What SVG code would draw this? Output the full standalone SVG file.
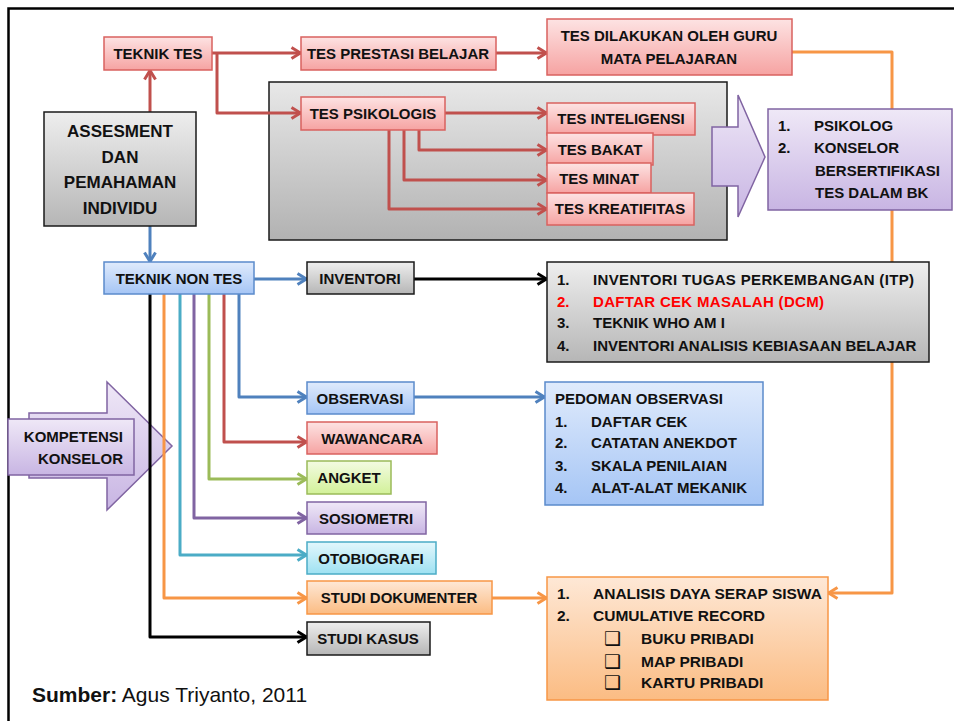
<svg xmlns="http://www.w3.org/2000/svg" width="954" height="721" viewBox="0 0 954 721">
<defs>
<linearGradient id="gRed" x1="0" y1="0" x2="0" y2="1"><stop offset="0" stop-color="#fde3e3"/><stop offset="1" stop-color="#f6a3a2"/></linearGradient>
<linearGradient id="gGray" x1="0" y1="0" x2="0" y2="1"><stop offset="0" stop-color="#eeeeee"/><stop offset="1" stop-color="#b6b6b6"/></linearGradient>
<linearGradient id="gPanel" x1="0" y1="0" x2="0" y2="1"><stop offset="0" stop-color="#e8e8e8"/><stop offset="1" stop-color="#b2b2b2"/></linearGradient>
<linearGradient id="gBlue" x1="0" y1="0" x2="0" y2="1"><stop offset="0" stop-color="#e0ebfc"/><stop offset="1" stop-color="#a5c5f5"/></linearGradient>
<linearGradient id="gGreen" x1="0" y1="0" x2="0" y2="1"><stop offset="0" stop-color="#f3fbe2"/><stop offset="1" stop-color="#d2f199"/></linearGradient>
<linearGradient id="gPurple" x1="0" y1="0" x2="0" y2="1"><stop offset="0" stop-color="#efe8f7"/><stop offset="1" stop-color="#c8b5e3"/></linearGradient>
<linearGradient id="gCyan" x1="0" y1="0" x2="0" y2="1"><stop offset="0" stop-color="#e3f7fc"/><stop offset="1" stop-color="#9ee1f2"/></linearGradient>
<linearGradient id="gOrange" x1="0" y1="0" x2="0" y2="1"><stop offset="0" stop-color="#fee8d6"/><stop offset="1" stop-color="#fbbc83"/></linearGradient>
<marker id="mRed" viewBox="0 0 12 14" refX="11" refY="7" markerWidth="12" markerHeight="14" markerUnits="userSpaceOnUse" orient="auto"><path d="M1.5,1.5 L10.5,7 L1.5,12.5" fill="none" stroke="#c0504d" stroke-width="3"/></marker>
<marker id="mBlue" viewBox="0 0 12 14" refX="11" refY="7" markerWidth="12" markerHeight="14" markerUnits="userSpaceOnUse" orient="auto"><path d="M1.5,1.5 L10.5,7 L1.5,12.5" fill="none" stroke="#4f81bd" stroke-width="3"/></marker>
<marker id="mGreen" viewBox="0 0 12 14" refX="11" refY="7" markerWidth="12" markerHeight="14" markerUnits="userSpaceOnUse" orient="auto"><path d="M1.5,1.5 L10.5,7 L1.5,12.5" fill="none" stroke="#9bbb59" stroke-width="3"/></marker>
<marker id="mPurple" viewBox="0 0 12 14" refX="11" refY="7" markerWidth="12" markerHeight="14" markerUnits="userSpaceOnUse" orient="auto"><path d="M1.5,1.5 L10.5,7 L1.5,12.5" fill="none" stroke="#8064a2" stroke-width="3"/></marker>
<marker id="mCyan" viewBox="0 0 12 14" refX="11" refY="7" markerWidth="12" markerHeight="14" markerUnits="userSpaceOnUse" orient="auto"><path d="M1.5,1.5 L10.5,7 L1.5,12.5" fill="none" stroke="#4bacc6" stroke-width="3"/></marker>
<marker id="mOrange" viewBox="0 0 12 14" refX="11" refY="7" markerWidth="12" markerHeight="14" markerUnits="userSpaceOnUse" orient="auto"><path d="M1.5,1.5 L10.5,7 L1.5,12.5" fill="none" stroke="#f79646" stroke-width="3"/></marker>
<marker id="mBlack" viewBox="0 0 12 14" refX="11" refY="7" markerWidth="12" markerHeight="14" markerUnits="userSpaceOnUse" orient="auto"><path d="M1.5,1.5 L10.5,7 L1.5,12.5" fill="none" stroke="#000000" stroke-width="3"/></marker>
</defs>
<style>
text{font-family:"Liberation Sans",Arial,sans-serif;font-weight:bold;font-size:15px;fill:#111;}
.c{text-anchor:middle;}
.big{font-size:17px;}
.li{font-size:15.5px;}
.red{fill:url(#gRed);stroke:#d9625f;stroke-width:1.5;}
.gray{fill:url(#gGray);stroke:#1a1a1a;stroke-width:1.5;}
.blue{fill:url(#gBlue);stroke:#5b8bcb;stroke-width:1.5;}
.green{fill:url(#gGreen);stroke:#9bbb59;stroke-width:1.5;}
.purple{fill:url(#gPurple);stroke:#8064a2;stroke-width:1.5;}
.cyan{fill:url(#gCyan);stroke:#4bacc6;stroke-width:1.5;}
.orange{fill:url(#gOrange);stroke:#f79646;stroke-width:1.5;}
.ln{fill:none;stroke-width:3;stroke-linejoin:round;}
.lr{stroke:#c0504d;}
.lb{stroke:#4f81bd;}
.lg{stroke:#9bbb59;}
.lp{stroke:#8064a2;}
.lc{stroke:#4bacc6;}
.lo{stroke:#f79646;}
.lk{stroke:#000;}
.chk{font-family:"DejaVu Sans",sans-serif;font-weight:bold;font-size:19px;}
</style>
<rect width="954" height="721" fill="#ffffff"/>
<path d="M8.5,721 V8.5 H954" fill="none" stroke="#000" stroke-width="2.5"/>

<g id="panel-psikologis">
<rect class="gray" x="269" y="82" width="458" height="158" style="fill:url(#gPanel)"/>
</g>

<g id="arrow-kompetensi">
<path class="purple" d="M29,413 H107 V382 L172,446 L107,510 V478 H29 Z"/>
<rect class="purple" x="8" y="419" width="126" height="56"/>
<text x="123" y="442" style="text-anchor:end">KOMPETENSI</text>
<text x="123" y="464" style="text-anchor:end">KONSELOR</text>
</g>

<g id="arrow-to-psikolog">
<path class="purple" d="M712,127 H738 V95 L765,157 L738,217 V186 H712 Z"/>
</g>

<g id="connectors">
<path class="ln lr" d="M150,112 V70" marker-end="url(#mRed)"/>
<path class="ln lr" d="M212,53 H301" marker-end="url(#mRed)"/>
<path class="ln lr" d="M217,53 V113 H301" marker-end="url(#mRed)"/>
<path class="ln lr" d="M496,53 H547" marker-end="url(#mRed)"/>
<path class="ln lr" d="M445,113 H547" marker-end="url(#mRed)"/>
<path class="ln lr" d="M419,130 V150 H547" marker-end="url(#mRed)"/>
<path class="ln lr" d="M404,130 V180 H547" marker-end="url(#mRed)"/>
<path class="ln lr" d="M389,130 V209 H547" marker-end="url(#mRed)"/>
<path class="ln lb" d="M150,226 V262" marker-end="url(#mBlue)"/>
<path class="ln lb" d="M254,279 H307" marker-end="url(#mBlue)"/>
<path class="ln lb" d="M239,294 V397 H307" marker-end="url(#mBlue)"/>
<path class="ln lb" d="M414,397 H545" marker-end="url(#mBlue)"/>
<path class="ln lr" d="M224,294 V442 H307" marker-end="url(#mRed)"/>
<path class="ln lg" d="M209,294 V479 H307" marker-end="url(#mGreen)"/>
<path class="ln lp" d="M194,294 V518 H307" marker-end="url(#mPurple)"/>
<path class="ln lc" d="M180,294 V555 H307" marker-end="url(#mCyan)"/>
<path class="ln lo" d="M164,294 V598 H307" marker-end="url(#mOrange)"/>
<path class="ln lk" d="M150,294 V637 H307" marker-end="url(#mBlack)"/>
<path class="ln lk" d="M414,279 H547" marker-end="url(#mBlack)"/>
<path class="ln lo" d="M492,598 H547" marker-end="url(#mOrange)"/>
<path class="ln lo" d="M792,52 H892 V593 H828" marker-end="url(#mOrange)"/>
</g>

<g id="teknik-tes"><rect class="red" x="104" y="37" width="108" height="33"/><text class="c" x="158" y="59">TEKNIK TES</text></g>
<g id="tes-prestasi"><rect class="red" x="301" y="37" width="195" height="33"/><text class="c" x="398" y="59">TES PRESTASI BELAJAR</text></g>
<g id="tes-dilakukan"><rect class="red" x="547" y="19" width="245" height="56"/><text class="c" x="669" y="41">TES DILAKUKAN OLEH GURU</text><text class="c" x="669" y="64">MATA PELAJARAN</text></g>
<g id="tes-psikologis"><rect class="red" x="301" y="97" width="144" height="33"/><text class="c" x="373" y="119">TES PSIKOLOGIS</text></g>
<g id="tes-inteligensi"><rect class="red" x="547" y="103" width="148" height="32"/><text class="c" x="621" y="124">TES INTELIGENSI</text></g>
<g id="tes-bakat"><rect class="red" x="547" y="133" width="106" height="32"/><text class="c" x="600" y="155">TES BAKAT</text></g>
<g id="tes-minat"><rect class="red" x="547" y="163" width="104" height="30"/><text class="c" x="599" y="184">TES MINAT</text></g>
<g id="tes-kreatifitas"><rect class="red" x="547" y="193" width="147" height="32"/><text class="c" x="620" y="214">TES KREATIFITAS</text></g>

<g id="psikolog"><rect class="purple" x="768" y="109" width="184" height="101"/>
<text x="778" y="131">1.</text><text x="814" y="131">PSIKOLOG</text>
<text x="778" y="153">2.</text><text x="814" y="153">KONSELOR</text>
<text x="815" y="176">BERSERTIFIKASI</text>
<text x="815" y="198">TES DALAM BK</text></g>

<g id="assesment"><rect class="gray" x="44" y="112" width="152" height="114"/>
<text class="c big" x="120" y="137">ASSESMENT</text>
<text class="c big" x="120" y="163">DAN</text>
<text class="c big" x="120" y="188">PEMAHAMAN</text>
<text class="c big" x="120" y="214">INDIVIDU</text></g>

<g id="teknik-non-tes"><rect class="blue" x="104" y="262" width="150" height="32"/><text class="c" x="179" y="284">TEKNIK NON TES</text></g>
<g id="inventori"><rect class="gray" x="307" y="262" width="107" height="32"/><text class="c" x="360" y="284">INVENTORI</text></g>
<g id="observasi"><rect class="blue" x="307" y="382" width="107" height="32"/><text class="c" x="360" y="404">OBSERVASI</text></g>
<g id="wawancara"><rect class="red" x="307" y="422" width="130" height="32"/><text class="c" x="372" y="444">WAWANCARA</text></g>
<g id="angket"><rect class="green" x="307" y="461" width="84" height="33"/><text class="c" x="349" y="483">ANGKET</text></g>
<g id="sosiometri"><rect class="purple" x="307" y="502" width="119" height="32"/><text class="c" x="366" y="524">SOSIOMETRI</text></g>
<g id="otobiografi"><rect class="cyan" x="307" y="542" width="129" height="32"/><text class="c" x="371" y="564">OTOBIOGRAFI</text></g>
<g id="studi-dokumenter"><rect class="orange" x="307" y="581" width="185" height="33"/><text class="c" x="399" y="603">STUDI DOKUMENTER</text></g>
<g id="studi-kasus"><rect class="gray" x="307" y="622" width="123" height="33"/><text class="c" x="368" y="644">STUDI KASUS</text></g>

<g id="inventori-list"><rect class="gray" x="547" y="262" width="382" height="100"/>
<text x="557" y="285">1.</text><text x="593" y="285" textLength="321">INVENTORI TUGAS PERKEMBANGAN (ITP)</text>
<text x="557" y="307" style="fill:#ff0000">2.</text><text x="593" y="307" style="fill:#ff0000" textLength="231">DAFTAR CEK MASALAH (DCM)</text>
<text x="557" y="328">3.</text><text x="593" y="328">TEKNIK WHO AM I</text>
<text x="557" y="351">4.</text><text x="593" y="351">INVENTORI ANALISIS KEBIASAAN BELAJAR</text></g>

<g id="pedoman-observasi"><rect class="blue" x="545" y="382" width="218" height="123"/>
<text x="555" y="404">PEDOMAN OBSERVASI</text>
<text x="555" y="427">1.</text><text x="591" y="427">DAFTAR CEK</text>
<text x="555" y="448">2.</text><text x="591" y="448">CATATAN ANEKDOT</text>
<text x="555" y="471">3.</text><text x="591" y="471">SKALA PENILAIAN</text>
<text x="555" y="493">4.</text><text x="591" y="493">ALAT-ALAT MEKANIK</text></g>

<g id="analisis"><rect class="orange" x="547" y="577" width="281" height="123"/>
<text class="li" x="557" y="599">1.</text><text class="li" x="593" y="599">ANALISIS DAYA SERAP SISWA</text>
<text class="li" x="557" y="621">2.</text><text class="li" x="593" y="621">CUMULATIVE RECORD</text>
<text class="chk" x="604" y="645">❑</text><text class="li" x="641" y="644">BUKU PRIBADI</text>
<text class="chk" x="604" y="668">❑</text><text class="li" x="641" y="667">MAP PRIBADI</text>
<text class="chk" x="604" y="689">❑</text><text class="li" x="641" y="688">KARTU PRIBADI</text></g>

<text x="32" y="702" style="font-size:21px;font-weight:bold">Sumber:<tspan style="font-weight:normal"> Agus Triyanto, 2011</tspan></text>
</svg>
